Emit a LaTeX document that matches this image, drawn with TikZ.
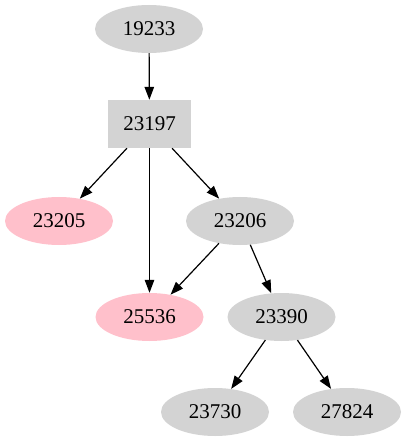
\documentclass[tikz,border=0pt]{standalone}
\usepackage{fontspec}
\setmainfont{Liberation Serif}
\usetikzlibrary{shapes.geometric,arrows.meta}
\definecolor{gv}{HTML}{D3D3D3}
\definecolor{pk}{HTML}{FFC0CB}
\begin{document}
\begin{tikzpicture}[x=1pt,y=-1pt,
  every node/.style={font=\fontsize{21}{24}\selectfont, inner sep=0pt},
  ell/.style={ellipse, fill=gv, minimum width=108pt, minimum height=48pt},
  pell/.style={ellipse, fill=pk, minimum width=108pt, minimum height=48pt},
  bx/.style={rectangle, fill=gv, minimum width=83pt, minimum height=48pt},
  edge/.style={draw=black, line width=1.2pt, -{Triangle[length=13pt,width=9.5pt]}}]
\useasboundingbox (0,0) rectangle (406,443);
\node[ell]  (n19233) at (149,29)  {19233};
\node[bx]   (n23197) at (149.5,124) {23197};
\node[pell] (n23205) at (59,221)  {23205};
\node[ell]  (n23206) at (240,221) {23206};
\node[pell] (n25536) at (149.5,317) {25536};
\node[ell]  (n23390) at (281.5,317) {23390};
\node[ell]  (n23730) at (215,412) {23730};
\node[ell]  (n27824) at (347,412) {27824};
\draw[edge] (n19233) -- (n23197);
\draw[edge] (n23197) -- (n23205);
\draw[edge] (n23197) -- (n25536);
\draw[edge] (n23197) -- (n23206);
\draw[edge] (n23206) -- (n25536);
\draw[edge] (n23206) -- (n23390);
\draw[edge] (n23390) -- (n23730);
\draw[edge] (n23390) -- (n27824);
\end{tikzpicture}
\end{document}
